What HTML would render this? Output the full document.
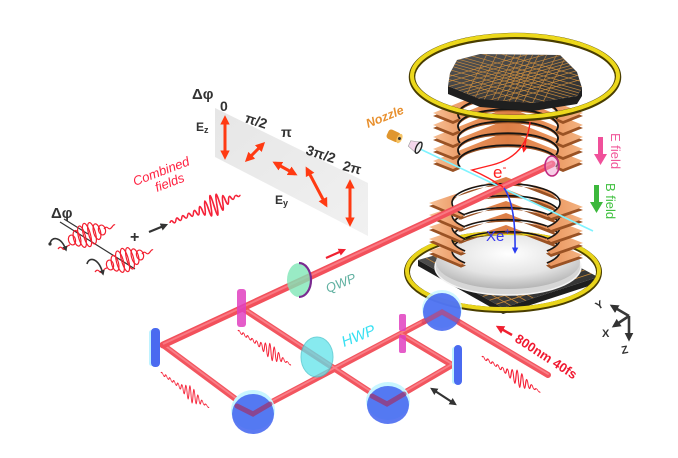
<!DOCTYPE html>
<html><head><meta charset="utf-8"><style>
html,body{margin:0;padding:0;background:#fff;}
svg{display:block;}
text{font-family:"Liberation Sans",sans-serif;}
</style></head><body>
<svg width="678" height="458" viewBox="0 0 678 458" xmlns="http://www.w3.org/2000/svg" xmlns:xlink="http://www.w3.org/1999/xlink">
<defs>
 <linearGradient id="cu" x1="0" y1="0" x2="1" y2="0">
  <stop offset="0" stop-color="#f7bf94"/>
  <stop offset="0.25" stop-color="#e89058"/>
  <stop offset="0.5" stop-color="#dc7e46"/>
  <stop offset="0.75" stop-color="#e89058"/>
  <stop offset="1" stop-color="#f4b482"/>
 </linearGradient>
 <radialGradient id="dome" cx="0.5" cy="0.35" r="0.65">
  <stop offset="0" stop-color="#ffffff"/>
  <stop offset="0.6" stop-color="#e4e4e4"/>
  <stop offset="1" stop-color="#b4b4b4"/>
 </radialGradient>
 <linearGradient id="panel" x1="0" y1="0" x2="1" y2="1">
  <stop offset="0" stop-color="#e6e6e6"/><stop offset="1" stop-color="#f1f1f1"/>
 </linearGradient>
 <linearGradient id="dark" x1="0" y1="0" x2="1" y2="1">
  <stop offset="0" stop-color="#555"/><stop offset="1" stop-color="#2c2c2c"/>
 </linearGradient>
 <marker id="ah" viewBox="0 0 10 10" refX="7" refY="5" markerWidth="3.2" markerHeight="3.2" orient="auto-start-reverse"><path d="M0,0 L10,5 L0,10 Z" fill="#ff3a12"/></marker>
 <marker id="ak" viewBox="0 0 10 10" refX="7" refY="5" markerWidth="3.4" markerHeight="3.4" orient="auto-start-reverse"><path d="M0,0 L10,5 L0,10 Z" fill="#333"/></marker>
 <marker id="ar" viewBox="0 0 10 10" refX="7" refY="5" markerWidth="3.4" markerHeight="3.4" orient="auto-start-reverse"><path d="M0,0 L10,5 L0,10 Z" fill="#f02030"/></marker>
 <marker id="ab" viewBox="0 0 10 10" refX="7" refY="5" markerWidth="4" markerHeight="4" orient="auto"><path d="M0,0 L10,5 L0,10 Z" fill="#2a3cf0"/></marker>
 <marker id="aer" viewBox="0 0 10 10" refX="5" refY="5" markerWidth="4" markerHeight="4" orient="auto"><path d="M0,0 L10,5 L0,10 Z" fill="#ff2020"/></marker>
 <path id="pkt" d="M0,0 Q1.25,-3 2.5,0 Q3.75,3 5,0 Q6.25,-4 7.5,0 Q8.75,3 10,0 Q11.25,-4 12.5,0 Q13.75,3 15,0 Q16.25,-4 17.5,0 Q18.75,4 20,0 Q21.25,-5 22.5,0 Q23.75,6 25,0 Q26.25,-8 27.5,0 Q28.75,11 30,0 Q31.25,-14 32.5,0 Q33.75,17 35,0 Q36.25,-20 37.5,0 Q38.75,20 40,0 Q41.25,-18 42.5,0 Q43.75,15 45,0 Q46.25,-11 47.5,0 Q48.75,8 50,0 Q51.25,-5 52.5,0 Q53.75,3 55,0 Q56.25,-2 57.5,0 Q58.75,2 60,0" fill="none"/>
 <g id="pu">
  <path d="M-75,0 L0,-30 L75,0 L55,8 L48,5 A50,17 0 1 0 -48,5 L-55,8 Z" fill="#9a5224" transform="translate(0,3)"/>
  <path d="M-75,0 L0,-30 L75,0 L55,8 L48,5 A50,17 0 1 0 -48,5 L-55,8 Z" fill="url(#cu)"/>
  <path d="M48,6 A50,17 0 1 0 -48,6" fill="none" stroke="#151515" stroke-width="1.8"/>
 </g>
 <g id="pl">
  <path d="M-77,0 L0,-26 L77,4 L45,15 L40,11.5 A54,19 0 1 0 -40,11.5 L-45,13.6 Z" fill="#9a5224" transform="translate(0,3)"/>
  <path d="M-77,0 L0,-26 L77,4 L45,15 L40,11.5 A54,19 0 1 0 -40,11.5 L-45,13.6 Z" fill="url(#cu)"/>
  <path d="M41,12 A54,19 0 1 0 -41,12" fill="none" stroke="#151515" stroke-width="1.6"/>
 </g>
 <clipPath id="topclip"><polygon points="450,73 457,60 480,54 560,55 577,72 582,88 577,96 533,103 480,99 448,86"/></clipPath>
 <clipPath id="botclip"><polygon points="418,260 515,233 598,277 503,308"/></clipPath>
</defs>

<rect width="678" height="458" fill="#fff"/>

<!-- ===== Polarization panel ===== -->
<polygon points="215,108 368,183 368,236 215,157" fill="url(#panel)"/>
<g stroke="#ff3a12" stroke-width="3" marker-start="url(#ah)" marker-end="url(#ah)" fill="none">
 <line x1="225" y1="118" x2="225" y2="157"/>
 <line x1="247" y1="160" x2="263" y2="144"/>
 <line x1="275" y1="163" x2="295" y2="174"/>
 <line x1="307" y1="169" x2="326" y2="205"/>
 <line x1="350" y1="182" x2="350" y2="224"/>
</g>
<g fill="#333" font-size="14" font-weight="bold">
 <text x="192" y="99" font-size="15">Δφ</text>
 <text x="220" y="111">0</text>
 <text transform="translate(244,122) rotate(18)">π/2</text>
 <text x="281" y="137">π</text>
 <text transform="translate(305,154) rotate(18)">3π/2</text>
 <text transform="translate(342,170) rotate(14)">2π</text>
 <text x="196" y="131" font-size="12">E<tspan font-size="9" dy="2">z</tspan></text>
 <text x="275" y="204" font-size="12">E<tspan font-size="9" dy="2">y</tspan></text>
</g>

<!-- ===== Left: helices ===== -->
<text x="51" y="218" font-size="15" font-weight="bold" fill="#333">Δφ</text>
<g stroke="#333" stroke-width="1.2">
 <line x1="60" y1="222" x2="135" y2="269"/>
 <line x1="64" y1="219" x2="88" y2="234"/>
</g>
<g fill="none" stroke="#f22030" stroke-width="1.2">
 <ellipse cx="72" cy="240" rx="3.5" ry="5" transform="rotate(-15 72 240)"/>
 <ellipse cx="77" cy="238.3" rx="3.5" ry="8" transform="rotate(-15 77 238.3)"/>
 <ellipse cx="82" cy="236.7" rx="3.5" ry="11" transform="rotate(-15 82 236.7)"/>
 <ellipse cx="87" cy="235" rx="3.5" ry="12" transform="rotate(-15 87 235)"/>
 <ellipse cx="92" cy="233.3" rx="3.5" ry="11" transform="rotate(-15 92 233.3)"/>
 <ellipse cx="97" cy="231.7" rx="3.5" ry="8" transform="rotate(-15 97 231.7)"/>
 <ellipse cx="102" cy="230" rx="3.5" ry="5" transform="rotate(-15 102 230)"/>
 <path d="M58,249 q2,-3 4,-1 q2,3 4,0 q2,-3 4,-3"/>
 <path d="M104,229 q2,-3 4,-1 q2,2 4,-1 q2,-3 3,-2"/>
 <ellipse cx="110" cy="265" rx="3.5" ry="5" transform="rotate(-15 110 265)"/>
 <ellipse cx="115" cy="263.3" rx="3.5" ry="8" transform="rotate(-15 115 263.3)"/>
 <ellipse cx="120" cy="261.7" rx="3.5" ry="11" transform="rotate(-15 120 261.7)"/>
 <ellipse cx="125" cy="260" rx="3.5" ry="12" transform="rotate(-15 125 260)"/>
 <ellipse cx="130" cy="258.3" rx="3.5" ry="11" transform="rotate(-15 130 258.3)"/>
 <ellipse cx="135" cy="256.7" rx="3.5" ry="8" transform="rotate(-15 135 256.7)"/>
 <ellipse cx="140" cy="255" rx="3.5" ry="5" transform="rotate(-15 140 255)"/>
 <path d="M95,272 q2,-3 4,-1 q2,3 4,0 q2,-3 4,-3"/>
 <path d="M142,254 q2,-3 4,-1 q2,2 4,-1 q2,-3 3,-2"/>
</g>
<g fill="none" stroke="#333" stroke-width="1.6">
 <path d="M50,244 C51,236 61,236 66,250" marker-end="url(#ak)"/>
 <path d="M87,264 C89,256 99,258 103,274" marker-end="url(#ak)"/>
</g>
<circle cx="50" cy="244" r="1.6" fill="#333"/>
<text x="130" y="242" font-size="16" font-weight="bold" fill="#333">+</text>
<line x1="149" y1="232" x2="166" y2="225" stroke="#333" stroke-width="2.2" marker-end="url(#ak)"/>

<!-- Combined fields -->
<text transform="translate(135,186) rotate(-21)" font-size="13" font-style="italic" fill="#ff2040">Combined</text>
<text transform="translate(157,192) rotate(-21)" font-size="13" font-style="italic" fill="#ff2040">fields</text>
<use xlink:href="#pkt" href="#pkt" transform="matrix(1.17,-0.47,0.25,1.05,170,223)" stroke="#f52238" stroke-width="1.3"/>

<!-- ===== Interferometer beams ===== -->
<g fill="none" stroke="#f2555f" stroke-width="6" stroke-linecap="round">
 <line x1="548" y1="375" x2="442" y2="312"/>
 <line x1="442" y1="312" x2="253" y2="412"/>
 <line x1="253" y1="412" x2="163" y2="345"/>
 <line x1="402" y1="335" x2="452" y2="365"/>
 <line x1="452" y1="365" x2="387" y2="403"/>
 <line x1="387" y1="403" x2="242" y2="308"/>
</g>
<g fill="none" stroke="#ff9aa2" stroke-width="1.8" stroke-linecap="round" opacity="0.6">
 <line x1="548" y1="374" x2="442" y2="311"/>
 <line x1="442" y1="311" x2="253" y2="411"/>
 <line x1="253" y1="411" x2="163" y2="344"/>
 <line x1="402" y1="334" x2="452" y2="364"/>
 <line x1="452" y1="364" x2="387" y2="402"/>
 <line x1="387" y1="402" x2="242" y2="307"/>
</g>

<!-- pulses -->
<g stroke="#f52238" stroke-width="1.2">
 <use xlink:href="#pkt" href="#pkt" transform="matrix(0.8,0.57,0,0.8,161,373)"/>
 <use xlink:href="#pkt" href="#pkt" transform="matrix(0.88,0.56,0,0.8,238,331)"/>
 <use xlink:href="#pkt" href="#pkt" transform="matrix(0.97,0.58,0,0.8,482,357)"/>
</g>

<!-- ===== Spectrometer ===== -->
<polygon points="418,260 503,308 598,277 598,283 503,314 418,266" fill="#1e1e1e"/>
<polygon points="418,260 515,233 598,277 503,308" fill="url(#dark)"/>
<g clip-path="url(#botclip)" stroke="#c98a3a" stroke-width="0.8" fill="none">
 <line x1="425.8" y1="257.8" x2="510.6" y2="305.5"/>
 <line x1="433.5" y1="255.7" x2="518.2" y2="303"/>
 <line x1="441.3" y1="253.5" x2="525.8" y2="300.6"/>
 <line x1="449" y1="251.4" x2="533.4" y2="298.2"/>
 <line x1="496.2" y1="304.2" x2="591.4" y2="273.5"/>
 <line x1="489.4" y1="300.3" x2="584.7" y2="270"/>
 <line x1="482.6" y1="296.5" x2="578" y2="266.4"/>
 <line x1="475.8" y1="292.7" x2="571.3" y2="262.9"/>
</g>
<ellipse cx="503" cy="272" rx="96" ry="38" fill="none" stroke="#4a3e00" stroke-width="6"/>
<ellipse cx="503" cy="271" rx="96" ry="38" fill="none" stroke="#e9d41a" stroke-width="4"/>
<ellipse cx="508" cy="267" rx="73" ry="28" fill="#d6d6d6" stroke="#f4f4f4" stroke-width="1.5"/>
<ellipse cx="508" cy="262" rx="72" ry="27" fill="url(#dome)"/>

<use xlink:href="#pl" href="#pl" transform="translate(506,251)"/>
<use xlink:href="#pl" href="#pl" transform="translate(506,239)"/>
<use xlink:href="#pl" href="#pl" transform="translate(506,227)"/>
<use xlink:href="#pl" href="#pl" transform="translate(506,215)"/>
<use xlink:href="#pl" href="#pl" transform="translate(506,203)"/>

<use xlink:href="#pu" href="#pu" transform="translate(508,161)"/>
<use xlink:href="#pu" href="#pu" transform="translate(508,149)"/>
<use xlink:href="#pu" href="#pu" transform="translate(508,137)"/>
<use xlink:href="#pu" href="#pu" transform="translate(508,125)"/>
<use xlink:href="#pu" href="#pu" transform="translate(508,113)"/>

<polygon points="448,86 480,99 533,103 577,96 582,88 582,96 577,104 533,111 480,107 448,94" fill="#1f1f1f"/>
<polygon points="450,73 457,60 480,54 560,55 577,72 582,88 577,96 533,103 480,99 448,86" fill="url(#dark)"/>
<g clip-path="url(#topclip)" stroke="#d09040" stroke-width="0.7" fill="none" opacity="0.9">
 <path d="M440,37 L590,79 M440,42 L590,84 M440,47 L590,89 M440,51 L590,93 M440,54 L590,96 M440,57 L590,99 M440,60 L590,102 M440,63 L590,105 M440,67 L590,109 M440,72 L590,114 M440,77 L590,119"/>
 <path d="M440,79 L590,37 M440,84 L590,42 M440,89 L590,47 M440,93 L590,51 M440,96 L590,54 M440,99 L590,57 M440,102 L590,60 M440,105 L590,63 M440,109 L590,67 M440,114 L590,72 M440,119 L590,77"/>
 <path d="M491.5,45 L459,110 M501.5,45 L469,110 M511.5,45 L479,110 M519.5,45 L487,110 M525.5,45 L493,110 M531.5,45 L499,110 M537.5,45 L505,110 M543.5,45 L511,110 M551.5,45 L519,110 M561.5,45 L529,110 M571.5,45 L539,110"/>
</g>
<ellipse cx="515" cy="77" rx="103" ry="41" fill="none" stroke="#4a3e00" stroke-width="6.5"/>
<ellipse cx="515" cy="76" rx="103" ry="41" fill="none" stroke="#ecd81c" stroke-width="4"/>

<line x1="418" y1="148" x2="593" y2="231" stroke="#7ff3ff" stroke-width="1.6"/>
<g transform="translate(394,136) rotate(25)">
 <rect x="-7" y="-5" width="13" height="10" rx="3" fill="#e0962e"/>
 <ellipse cx="6" cy="0" rx="2.6" ry="5" fill="#f6c466"/>
 <circle cx="6" cy="0" r="1.5" fill="#333"/>
</g>
<g transform="translate(415,146) rotate(25)">
 <polygon points="-6,-3 4,-6 4,6 -6,3" fill="#f3d6ea" stroke="#999" stroke-width="0.6"/>
 <ellipse cx="4" cy="0" rx="2.5" ry="6" fill="#eee" stroke="#222" stroke-width="1.4"/>
</g>
<text transform="translate(368,128) rotate(-22)" font-size="12.5" font-style="italic" font-weight="bold" fill="#e8902e">Nozzle</text>

<line x1="163" y1="345" x2="552" y2="164" stroke="#f2505b" stroke-width="7" stroke-linecap="round"/>
<line x1="163" y1="344" x2="552" y2="163" stroke="#ff9aa2" stroke-width="2" opacity="0.55"/>
<ellipse cx="552" cy="166" rx="7" ry="10" fill="#f0a0d0" fill-opacity="0.5" stroke="#c02a80" stroke-width="1.6"/>

<path d="M530,122 Q527,156 492,165 L472,170 Q490,178 503,187" fill="none" stroke="#ff2020" stroke-width="1.4"/>
<path d="M526,140 L524,150" stroke="#ff2020" stroke-width="1.4" marker-end="url(#aer)"/>
<path d="M504,188 Q516,205 515,252" fill="none" stroke="#2a3cf0" stroke-width="1.6" marker-end="url(#ab)"/>
<text x="493" y="178" font-size="17" fill="#ff2020">e<tspan dy="-7" font-size="12">-</tspan></text>
<text x="486" y="241" font-size="15" fill="#3a3af0">Xe<tspan dy="-6" font-size="10">+</tspan></text>

<polygon points="598,137 603,137 603,154 607,154 600.5,165 594,154 598,154" fill="#f0509a"/>
<text transform="translate(611,133) rotate(90)" font-size="13" fill="#f0589a">E field</text>
<polygon points="594,185 599,185 599,202 603,202 596.5,213 590,202 594,202" fill="#3cb83c"/>
<text transform="translate(606,183) rotate(90)" font-size="13" fill="#40c040">B field</text>

<!-- ===== Optics ===== -->
<rect x="149" y="330" width="5" height="36" rx="2.5" fill="#bff2ff"/>
<rect x="151" y="328" width="9" height="39" rx="4" fill="#4a6af0"/>
<rect x="452" y="347" width="5" height="37" rx="2.5" fill="#bff2ff"/>
<rect x="454" y="345" width="8" height="40" rx="4" fill="#4a6af0"/>
<rect x="237" y="289" width="9" height="38" rx="3" fill="#e040c0" opacity="0.85"/>
<rect x="399" y="314" width="7" height="17" rx="2" fill="#e040c0" opacity="0.85"/>
<rect x="399" y="335" width="7" height="18" rx="2" fill="#e040c0" opacity="0.85"/>
<ellipse cx="253" cy="410" rx="22" ry="20" fill="#c8f6ff"/>
<ellipse cx="253" cy="414" rx="21" ry="20" fill="#3f63f0" opacity="0.85"/>
<ellipse cx="388" cy="401" rx="22" ry="19" fill="#c8f6ff"/>
<ellipse cx="388" cy="405" rx="21" ry="19" fill="#3f63f0" opacity="0.85"/>
<ellipse cx="442" cy="309" rx="20" ry="19" fill="#c8f6ff" opacity="0.8"/>
<ellipse cx="442" cy="312" rx="19" ry="19" fill="#3f63f0" opacity="0.85"/>
<path d="M237,406 L253,414 L270,404" fill="none" stroke="#a0306a" stroke-width="5" stroke-linecap="round" opacity="0.7"/>
<path d="M372,396 L387,404 L404,394" fill="none" stroke="#a0306a" stroke-width="5" stroke-linecap="round" opacity="0.7"/>
<path d="M424,322 L442,312 L458,321" fill="none" stroke="#d04060" stroke-width="5" stroke-linecap="round" opacity="0.6"/>
<ellipse cx="299" cy="280" rx="12" ry="17" fill="#7fe6b6" opacity="0.8"/>
<path d="M299,263 A12,17 0 0 1 299,297" fill="none" stroke="#7a2a90" stroke-width="2.2"/>
<ellipse cx="317" cy="357" rx="16" ry="20" fill="#5fe3ea" opacity="0.75" stroke="#40c4cc" stroke-width="1"/>

<text transform="translate(328,293) rotate(-22)" font-size="13" font-style="italic" fill="#5fb0a0">QWP</text>
<text transform="translate(344,347) rotate(-22)" font-size="15" font-style="italic" fill="#38e0f2">HWP</text>
<text transform="translate(514,341) rotate(33)" font-size="13" font-weight="bold" fill="#f01830">800nm 40fs</text>

<line x1="512" y1="335" x2="498" y2="327" stroke="#f02030" stroke-width="2.5" marker-end="url(#ar)"/>
<line x1="326" y1="258" x2="344" y2="250" stroke="#f02030" stroke-width="2.2" marker-end="url(#ar)"/>
<line x1="432" y1="389" x2="455" y2="404" stroke="#333" stroke-width="2.2" marker-start="url(#ak)" marker-end="url(#ak)"/>

<g stroke="#383838" stroke-width="2.6" fill="none">
 <line x1="629" y1="316" x2="612" y2="306" marker-end="url(#ak)"/>
 <line x1="629" y1="316" x2="614" y2="326" marker-end="url(#ak)"/>
 <line x1="629" y1="316" x2="629" y2="339" marker-end="url(#ak)"/>
</g>
<g fill="#333" font-size="11" font-weight="bold">
 <text transform="translate(598,310) rotate(-30)">Y</text>
 <text x="602" y="337">X</text>
 <text transform="translate(622,354) rotate(-10)">Z</text>
</g>
</svg>
</body></html>
